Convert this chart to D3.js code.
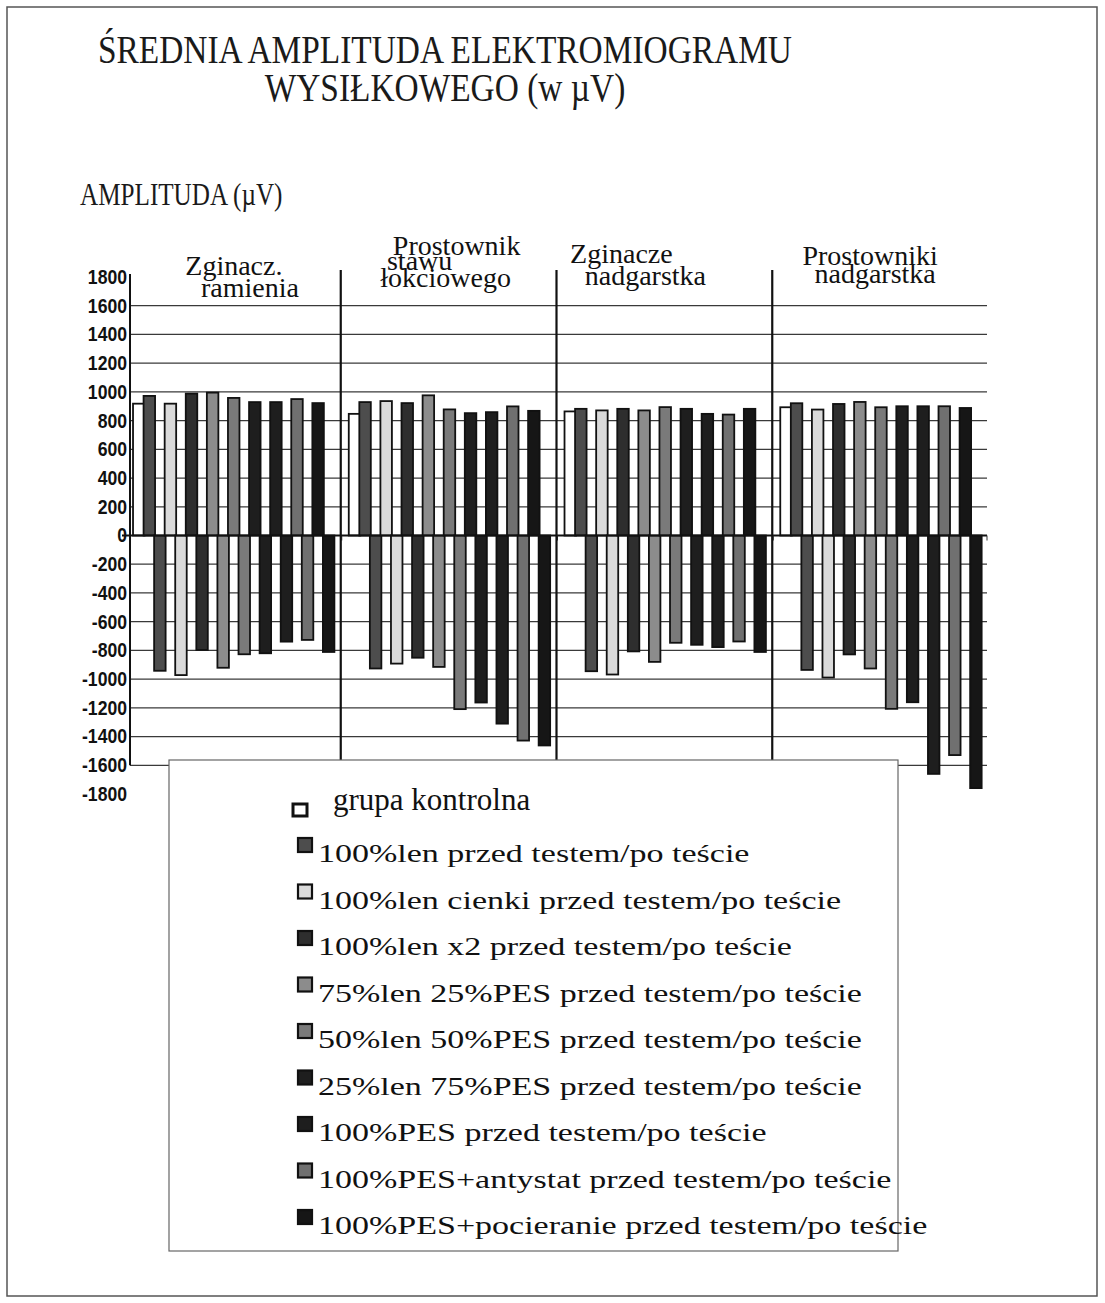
<!DOCTYPE html>
<html>
<head>
<meta charset="utf-8">
<script src="https://cdn.jsdelivr.net/npm/d3@7"></script>
<style>
  body { margin: 0; background: #fff; }
  svg { display: block; }
</style>
</head>
<body>
<div id="container"></div>
<script>
// muscle groups, two/three line labels as they appear above the bars
const groupLabels = [
  ['Zginacz.', 'ramienia'],
  ['Prostownik', 'stawu', 'łokciowego'],
  ['Zginacze', 'nadgarstka'],
  ['Prostowniki', 'nadgarstka']
];

const seriesNames = [
  'grupa kontrolna',
  '100%len przed testem/po teście',
  '100%len cienki przed testem/po teście',
  '100%len x2 przed testem/po teście',
  '75%len 25%PES przed testem/po teście',
  '50%len 50%PES przed testem/po teście',
  '25%len 75%PES przed testem/po teście',
  '100%PES przed testem/po teście',
  '100%PES+antystat przed testem/po teście',
  '100%PES+pocieranie przed testem/po teście'
];

const seriesColors = ['#ffffff', '#4d4d4d', '#dadada', '#2e2e2e', '#8c8c8c',
  '#7a7a7a', '#1e1e1e', '#1e1e1e', '#707070', '#161616'];

// control group, one value per muscle group
const kontrolna = [918, 847, 864, 893];

// before test (positive), per series 1..9, per muscle group
const przedTestem = [
  [972, 929, 882, 921],
  [918, 936, 871, 877],
  [988, 922, 882, 916],
  [995, 976, 871, 930],
  [958, 878, 894, 893],
  [929, 852, 882, 900],
  [929, 859, 847, 900],
  [950, 899, 842, 900],
  [922, 868, 882, 888]
];

// after test (drawn below zero)
const poTescie = [
  [-942, -926, -945, -936],
  [-972, -892, -968, -989],
  [-797, -851, -807, -828],
  [-921, -915, -880, -926],
  [-827, -1209, -747, -1207],
  [-820, -1163, -761, -1161],
  [-739, -1310, -777, -1660],
  [-727, -1428, -738, -1529],
  [-811, -1462, -811, -1759]
];

const yTicks = [1800, 1600, 1400, 1200, 1000, 800, 600, 400, 200, 0,
  -200, -400, -600, -800, -1000, -1200, -1400, -1600, -1800];

const W = 1105, H = 1303;

const svg = d3.select('#container').append('svg')
  .attr('width', W)
  .attr('height', H);

// outer frame
svg.append('rect')
  .attr('x', 7).attr('y', 7)
  .attr('width', 1090).attr('height', 1289)
  .attr('fill', 'none')
  .attr('stroke', '#555')
  .attr('stroke-width', 1.5);

const serif = 'Liberation Serif, Times New Roman, serif';

function squeeze(sel, k) {
  sel.each(function() {
    const w = this.getComputedTextLength();
    this.setAttribute('textLength', w * k);
    this.setAttribute('lengthAdjust', 'spacingAndGlyphs');
  });
}

// title
svg.append('text')
  .attr('x', 445).attr('y', 63)
  .attr('text-anchor', 'middle')
  .style('font-family', serif).style('font-size', '40px')
  .attr('fill', '#1a1a1a')
  .text('ŚREDNIA AMPLITUDA ELEKTROMIOGRAMU')
  .call(squeeze, 0.835);

svg.append('text')
  .attr('x', 445).attr('y', 101)
  .attr('text-anchor', 'middle')
  .style('font-family', serif).style('font-size', '40px')
  .attr('fill', '#1a1a1a')
  .text('WYSIŁKOWEGO (w µV)')
  .call(squeeze, 0.835);

svg.append('text')
  .attr('x', 80).attr('y', 205)
  .style('font-family', serif).style('font-size', '32px')
  .attr('fill', '#1a1a1a')
  .text('AMPLITUDA (µV)')
  .call(squeeze, 0.786);

// scales
const axisX = 130, gridEnd = 987;
const y = d3.scaleLinear().domain([-1800, 1800]).range([794, 277]);
const x0 = d3.scaleBand().domain(d3.range(groupLabels.length)).range([130, 993]);
const bw = x0.bandwidth();
const x1 = d3.scaleBand().domain(d3.range(19)).range([bw * 0.014, bw * 0.943]);
const barW = x1.bandwidth() * 1.09;

// gridlines
svg.append('g').selectAll('line')
  .data(yTicks.filter(d => d !== 0 && Math.abs(d) < 1800))
  .join('line')
  .attr('x1', axisX).attr('x2', gridEnd)
  .attr('y1', d => y(d)).attr('y2', d => y(d))
  .attr('stroke', '#3a3a3a')
  .attr('stroke-width', 1.3);

// bars: slot 0 control, then przed/po pairs for each series
const bars = [];
kontrolna.forEach((v, g) => bars.push({ g, slot: 0, s: 0, v }));
przedTestem.forEach((row, i) => row.forEach((v, g) => {
  bars.push({ g, slot: 1 + 2 * i, s: i + 1, v });
  bars.push({ g, slot: 2 + 2 * i, s: i + 1, v: poTescie[i][g] });
}));
bars.sort((a, b) => a.slot - b.slot);

svg.append('g').selectAll('rect')
  .data(bars)
  .join('rect')
  .attr('x', d => x0(d.g) + x1(d.slot))
  .attr('y', d => y(Math.max(0, d.v)))
  .attr('width', barW)
  .attr('height', d => Math.abs(y(d.v) - y(0)))
  .attr('fill', d => seriesColors[d.s])
  .attr('stroke', '#111')
  .attr('stroke-width', 1.8);

// zero line
svg.append('line')
  .attr('x1', axisX - 8).attr('x2', gridEnd)
  .attr('y1', y(0)).attr('y2', y(0))
  .attr('stroke', '#111')
  .attr('stroke-width', 2.2);

// category ticks under zero line
svg.append('g').selectAll('line')
  .data(d3.range(1, groupLabels.length + 1))
  .join('line')
  .attr('x1', g => g < groupLabels.length ? x0(g) - 4 : gridEnd)
  .attr('x2', g => g < groupLabels.length ? x0(g) - 4 : gridEnd)
  .attr('y1', y(0)).attr('y2', y(0) + 5)
  .attr('stroke', '#333')
  .attr('stroke-width', 1);

// separators between muscle groups
svg.append('g').selectAll('line')
  .data(d3.range(1, groupLabels.length))
  .join('line')
  .attr('x1', g => x0(g) - 5).attr('x2', g => x0(g) - 5)
  .attr('y1', y(1800) - 7).attr('y2', y(-1600) - 2)
  .attr('stroke', '#111')
  .attr('stroke-width', 2.2);

// y axis, plain hyphen minus and no thousands separator
const yAxis = svg.append('g')
  .attr('transform', `translate(${axisX},0)`)
  .call(d3.axisLeft(y).tickValues(yTicks).tickSize(0).tickPadding(3)
    .tickFormat(d => String(d)));
yAxis.select('.domain').remove();
yAxis.append('line')
  .attr('y1', y(1800) - 3).attr('y2', y(-1600))
  .attr('stroke', '#111')
  .attr('stroke-width', 2);
yAxis.selectAll('text')
  .attr('fill', '#111')
  .style('font-family', 'Liberation Sans, Arial, sans-serif')
  .style('font-weight', 'bold')
  .style('font-size', '20px')
  .call(squeeze, 0.88);

// group labels (hand placed text boxes in the original)
const labelDx = [[-4, 12], [3, -34, -8], [-48, -24], [-15, -10]];
const labelY = [[275, 297], [255, 270, 287], [263, 285], [265, 283]];
groupLabels.forEach((lines, g) => {
  lines.forEach((t, j) => {
    svg.append('text')
      .attr('x', x0(g) + bw / 2 + labelDx[g][j])
      .attr('y', labelY[g][j])
      .attr('text-anchor', 'middle')
      .style('font-family', serif)
      .style('font-size', '28px')
      .attr('fill', '#111')
      .text(t);
  });
});

// legend
const lg = svg.append('g');
lg.append('rect')
  .attr('x', 169).attr('y', 760)
  .attr('width', 729).attr('height', 491)
  .attr('fill', '#fff')
  .attr('stroke', '#666')
  .attr('stroke-width', 1.2);

const rowY = i => i === 0 ? 810 : 862 + (i - 1) * 46.5;

lg.selectAll('rect.key')
  .data(seriesNames)
  .join('rect')
  .attr('class', 'key')
  .attr('x', (d, i) => i === 0 ? 293 : 298)
  .attr('y', (d, i) => i === 0 ? rowY(i) - 6 : rowY(i) - 24)
  .attr('width', 14)
  .attr('height', (d, i) => i === 0 ? 12 : 14)
  .attr('fill', (d, i) => seriesColors[i])
  .attr('stroke', '#111')
  .attr('stroke-width', (d, i) => i === 0 ? 3 : 2.2);

lg.selectAll('text')
  .data(seriesNames)
  .join('text')
  .attr('x', (d, i) => i === 0 ? 333 : 318)
  .attr('y', (d, i) => rowY(i))
  .style('font-family', serif)
  .style('font-size', (d, i) => i === 0 ? '31px' : '25px')
  .attr('fill', '#111')
  .text(d => d)
  .each(function(d, i) {
    if (i > 0) d3.select(this).call(squeeze, 1.36);
  });
</script>
</body>
</html>
